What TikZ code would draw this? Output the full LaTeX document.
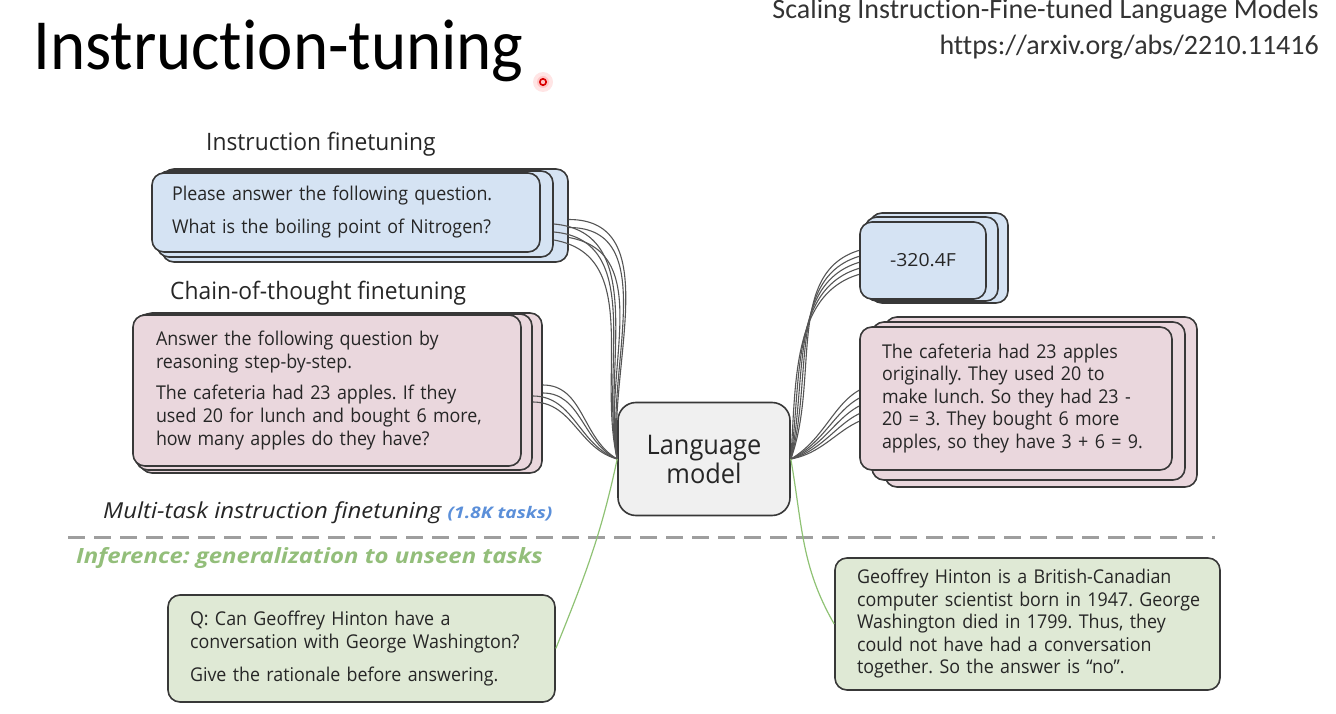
\documentclass[tikz,border=0pt]{standalone}
\usepackage{fontspec}
\setmainfont{Open Sans}
\newfontfamily\titlefont[FakeStretch=0.93, Ligatures={NoCommon,NoContextual}]{Carlito}
\newfontfamily\reffont[Ligatures={NoCommon,NoContextual}]{Carlito}
\newfontfamily\boxfont[FakeStretch=0.94]{Open Sans}
\newfontfamily\labfont[FakeStretch=0.95]{Open Sans}
\newfontfamily\mtfont[FakeStretch=1.09]{Open Sans}
\newfontfamily\inffont[FakeStretch=1.14]{Open Sans}
\newfontfamily\tasksfont[FakeStretch=1.2]{Open Sans}
\newfontfamily\numfont[FakeStretch=1.08]{Open Sans}
\frenchspacing
\newcommand\cardlines[1]{\begin{tabular}{@{}l@{}}#1\end{tabular}}
\definecolor{bluefill}{HTML}{D5E3F3}
\definecolor{pinkfill}{HTML}{EAD7DD}
\definecolor{greenfill}{HTML}{DFE9D5}
\definecolor{lmfill}{HTML}{F0F0F0}
\definecolor{cardline}{HTML}{383838}
\definecolor{connline}{HTML}{555555}
\definecolor{greenline}{HTML}{8FC274}
\definecolor{greentext}{HTML}{93BE7A}
\definecolor{bluetext}{HTML}{5B8FD9}
\definecolor{txt}{HTML}{262626}
\tikzset{
  card/.style={draw=cardline, line width=1.6pt, rounded corners=12pt, inner sep=0pt, text=txt},
  textcard/.style={card, align=left, inner ysep=0pt, font=\boxfont\fontsize{19}{22.5}\selectfont},
  conn/.style={draw=connline, line width=1.1pt},
  gconn/.style={draw=greenline, line width=1.2pt},
  label/.style={anchor=base west, inner sep=0pt, text=txt, font=\labfont\fontsize{24}{28}\selectfont}
}
\begin{document}
\begin{tikzpicture}[x=1pt,y=1pt]
\useasboundingbox (0,0) rectangle (1336,-714);
% header
\node[anchor=base west, inner sep=0pt, font=\titlefont\fontsize{72}{76}\selectfont] (title) at (33,-70) {Instruct\kern0pt ion-tuning};
\node[anchor=base east, inner sep=0pt, font=\reffont\fontsize{28}{30}\selectfont, text=black!80] (ref1) at (1319,-19) {Scaling Instruct\kern0pt ion-F\kern0pt ine-tuned Language Models};
\node[anchor=base east, inner sep=0pt, font=\reffont\fontsize{28}{30}\selectfont, text=black!80] (ref2) at (1319,-55) {https://arxiv.org/abs/2210.11416};
\fill[red!10] (543,-82) circle (10);
\fill[red!22] (543,-82) circle (6);
\draw[red!85!black, line width=1.6pt] (543,-82) circle (3.2);

% labels
\node[label] (l1) at (206,-151) {Instruction finetuning};
\node[label] (l2) at (170,-299) {Chain-of-thought finetuning};

% back cards
\node[card, fill=bluefill, minimum width=406, minimum height=93] (bb2) at (365,-215.5) {};
\node[card, fill=bluefill, minimum width=396, minimum height=86] (bb1) at (355,-214) {};
\node[card, fill=pinkfill, minimum width=402, minimum height=160] (pb2) at (341,-393) {};
\node[card, fill=pinkfill, minimum width=396, minimum height=156] (pb1) at (334,-392) {};
\node[card, fill=bluefill, minimum width=138, minimum height=90] (ab2) at (939,-258) {};
\node[card, fill=bluefill, minimum width=133, minimum height=84] (ab1) at (931.5,-259) {};
\node[card, fill=pinkfill, minimum width=312, minimum height=170] (pa2) at (1041,-402) {};
\node[card, fill=pinkfill, minimum width=313, minimum height=158] (pa1) at (1028.5,-401) {};

% language model
\node[card, fill=lmfill, rounded corners=18pt, minimum width=172, minimum height=113, align=center, font=\boxfont\fontsize{27}{29}\selectfont] (lm) at (704,-459) {Language\\model};

% connectors (left)
\foreach \s/\dy/\o/\i in {bb2/-4/0/95, bb2/-12/0/97, bb1/-10/-5/99, bb1/-18/-5/101, bb2/-22/-10/100, bb1/-26/-10/103}
  \draw[conn] ([yshift=\dy pt]\s.east) to[out=\o,in=\i] (lm.west);
\foreach \s/\dy/\i in {pb2/8/150, pb2/0/155, pb1/-4/160, pb1/-10/165}
  \draw[conn] ([yshift=\dy pt]\s.east) to[out=0,in=\i] (lm.west);
% connectors (right)
\foreach \dy/\o in {10/70, 4/74, -2/78, -8/82, -14/86}
  \draw[conn] (lm.east) to[out=\o,in=190] ([yshift=\dy pt]ab2.west);
\foreach \dy/\o in {18/30, 10/25, 2/20, -6/15, -14/10}
  \draw[conn] (lm.east) to[out=\o,in=180] ([yshift=\dy pt]pa2.west);

% front cards
\node[textcard, fill=bluefill, text width=348, inner xsep=20, minimum height=79] (bf) at (346,-212.5)
  {\cardlines{Please answer the following question.\\[10.5pt]What is the boiling point of Nitrogen?}};
\node[textcard, fill=pinkfill, text width=342, inner xsep=23, minimum height=151, font=\boxfont\fontsize{19}{23}\selectfont] (pf) at (327,-390.5)
  {\cardlines{Answer the following question by\\reasoning step-by-step.\\[8pt]The cafeteria had 23 apples. If they\\used 20 for lunch and bought 6 more,\\how many apples do they have?}};
\node[textcard, fill=bluefill, text width=126, inner xsep=0, align=center, minimum height=77, font=\numfont\fontsize{18}{22}\selectfont] (af) at (923,-260.5) {-320.4F};
\node[textcard, fill=pinkfill, text width=268, inner xsep=22, minimum height=143] (pa) at (1016,-398.5)
  {\cardlines{The cafeteria had 23 apples\\originally. They used 20 to\\make lunch. So they had 23 -\\20 = 3. They bought 6 more\\apples, so they have 3 + 6 = 9.}};

% multi-task label and separator
\node[label, font=\mtfont\itshape\fontsize{22}{26}\selectfont] (mt) at (103,-518) {Multi-task instruction finetuning};
\node[anchor=base west, inner sep=0pt, text=bluetext, font=\tasksfont\bfseries\itshape\fontsize{16}{18}\selectfont] (mtn) at ([xshift=6pt]mt.base east) {(1.8K tasks)};
\coordinate (dl) at (68,-537);
\coordinate (dr) at (1215,-537);
\draw[draw=black!38, line width=3pt, dash pattern=on 17pt off 9pt] (dl) -- (dr);
\node[label, text=greentext, font=\inffont\bfseries\itshape\fontsize{21}{26}\selectfont] (inf) at (76,-563) {Inference: generalization to unseen tasks};

% inference cards
\node[textcard, fill=greenfill, text width=343, inner xsep=22, minimum height=107, font=\boxfont\fontsize{19}{23}\selectfont] (q) at (361.5,-648.5)
  {\cardlines{Q: Can Geoffrey Hinton have a\\conversation with George Washington?\\[10pt]Give the rationale before answering.}};
\node[textcard, fill=greenfill, text width=341, inner xsep=22, minimum height=132] (ans) at (1027.5,-624)
  {\cardlines{Geoffrey Hinton is a British-Canadian\\computer scientist born in 1947. George\\Washington died in 1799. Thus, they\\could not have had a conversation\\together. So the answer is “no”.}};

\draw[gconn] (q.east) to[out=68,in=258] (lm.west);
\draw[gconn] (lm.east) to[out=-80,in=120] (ans.west);
\end{tikzpicture}
\end{document}
